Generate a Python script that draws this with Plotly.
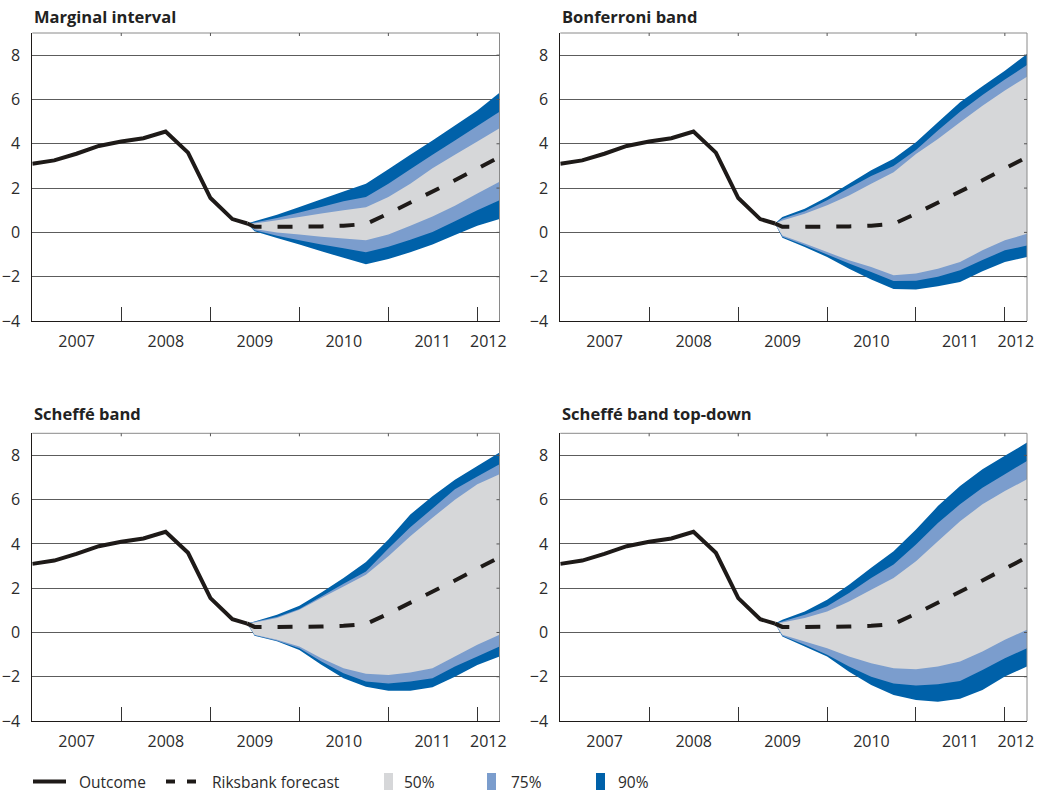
import plotly.graph_objects as go

# ---------------------------------------------------------------- data
OUTCOME_DATES = ["2007-01-01", "2007-04-01", "2007-07-01", "2007-10-01",
                 "2008-01-01", "2008-04-01", "2008-07-01", "2008-10-01",
                 "2009-01-01", "2009-04-01", "2009-06-01"]
OUTCOME = [3.1, 3.25, 3.55, 3.9, 4.1, 4.25, 4.55, 3.6, 1.55, 0.6, 0.4]

FORECAST_DATES = ["2009-06-01", "2009-07-01", "2009-10-01", "2010-01-01",
                  "2010-04-01", "2010-07-01", "2010-10-01", "2011-01-01",
                  "2011-04-01", "2011-07-01", "2011-10-01", "2012-01-01",
                  "2012-04-01"]
FORECAST = [0.4, 0.25, 0.25, 0.25, 0.27, 0.3, 0.38, 0.85, 1.33, 1.83, 2.35, 2.88, 3.4]

# band limits (upper/lower) for the 50, 75 and 90 per cent intervals
MARGINAL_U90 = [0.4, 0.5, 0.8, 1.15, 1.5, 1.85, 2.2, 2.85, 3.5, 4.15, 4.83, 5.5, 6.3]
MARGINAL_U75 = [0.4, 0.45, 0.65, 0.9, 1.15, 1.4, 1.6, 2.2, 2.85, 3.5, 4.15, 4.8, 5.45]
MARGINAL_U50 = [0.4, 0.4, 0.55, 0.7, 0.85, 1.0, 1.14, 1.6, 2.2, 2.9, 3.5, 4.1, 4.7]
MARGINAL_L50 = [0.4, 0.15, 0.0, -0.1, -0.2, -0.28, -0.36, -0.1, 0.3, 0.72, 1.2, 1.75, 2.28]
MARGINAL_L75 = [0.4, 0.1, -0.15, -0.35, -0.55, -0.72, -0.9, -0.65, -0.33, 0.02, 0.5, 1.0, 1.45]
MARGINAL_L90 = [0.4, 0.05, -0.25, -0.55, -0.85, -1.15, -1.44, -1.2, -0.9, -0.55, -0.12, 0.3, 0.6]

BONFERRONI_U90 = [0.4, 0.7, 1.07, 1.6, 2.2, 2.8, 3.32, 4.07, 4.97, 5.87, 6.6, 7.3, 8.05]
BONFERRONI_U75 = [0.4, 0.62, 0.95, 1.45, 2.0, 2.55, 3.0, 3.72, 4.6, 5.45, 6.2, 6.9, 7.55]
BONFERRONI_U50 = [0.4, 0.54, 0.84, 1.22, 1.67, 2.19, 2.72, 3.54, 4.22, 4.97, 5.72, 6.4, 7.03]
BONFERRONI_L50 = [0.4, -0.14, -0.5, -0.89, -1.26, -1.56, -1.94, -1.86, -1.64, -1.34, -0.81, -0.36, -0.06]
BONFERRONI_L75 = [0.4, -0.2, -0.58, -1.0, -1.4, -1.79, -2.2, -2.18, -2.0, -1.71, -1.25, -0.81, -0.59]
BONFERRONI_L90 = [0.4, -0.24, -0.66, -1.11, -1.64, -2.13, -2.55, -2.58, -2.43, -2.24, -1.75, -1.34, -1.11]

SCHEFFE_U90 = [0.4, 0.5, 0.8, 1.21, 1.81, 2.46, 3.19, 4.2, 5.33, 6.16, 6.9, 7.52, 8.13]
SCHEFFE_U75 = [0.4, 0.48, 0.7, 1.06, 1.63, 2.2, 2.76, 3.8, 4.75, 5.6, 6.47, 7.05, 7.6]
SCHEFFE_U50 = [0.4, 0.45, 0.65, 1.03, 1.56, 2.08, 2.61, 3.44, 4.35, 5.18, 6.0, 6.7, 7.15]
SCHEFFE_L50 = [0.4, -0.1, -0.33, -0.63, -1.16, -1.62, -1.87, -1.92, -1.81, -1.62, -1.09, -0.56, -0.1]
SCHEFFE_L75 = [0.4, -0.12, -0.37, -0.71, -1.31, -1.84, -2.22, -2.3, -2.22, -2.07, -1.54, -1.09, -0.63]
SCHEFFE_L90 = [0.4, -0.15, -0.4, -0.79, -1.46, -2.07, -2.45, -2.63, -2.63, -2.48, -2.0, -1.47, -1.09]

TOPDOWN_U90 = [0.4, 0.57, 0.95, 1.48, 2.16, 2.92, 3.67, 4.65, 5.71, 6.62, 7.37, 7.98, 8.58]
TOPDOWN_U75 = [0.4, 0.5, 0.8, 1.18, 1.78, 2.46, 3.07, 3.97, 4.95, 5.79, 6.54, 7.15, 7.75]
TOPDOWN_U50 = [0.4, 0.45, 0.65, 0.95, 1.4, 1.93, 2.46, 3.22, 4.12, 5.03, 5.79, 6.39, 6.92]
TOPDOWN_L50 = [0.4, -0.1, -0.41, -0.71, -1.09, -1.39, -1.62, -1.66, -1.54, -1.31, -0.86, -0.33, 0.12]
TOPDOWN_L75 = [0.4, -0.15, -0.56, -1.01, -1.54, -2.0, -2.3, -2.4, -2.34, -2.19, -1.69, -1.16, -0.71]
TOPDOWN_L90 = [0.4, -0.18, -0.63, -1.09, -1.77, -2.37, -2.82, -3.05, -3.13, -3.0, -2.6, -1.99, -1.54]

PANEL_TITLES = ["Marginal interval", "Bonferroni band", "Scheffé band", "Scheffé band top-down"]

YEAR_LABELS = ["2007", "2008", "2009", "2010", "2011", "2012"]
YEAR_LABEL_DATES = ["2007-07-02", "2008-07-02", "2009-07-02", "2010-07-02", "2011-07-02", "2012-02-15"]
YEAR_BOUNDS = ["2008-01-01", "2009-01-01", "2010-01-01", "2011-01-01", "2012-01-01"]
Y_TICKS = [-4, -2, 0, 2, 4, 6, 8]
Y_TICK_TEXT = ["\u22124", "\u22122", "0", "2", "4", "6", "8"]

LEGEND_LABELS = ["Outcome", "Riksbank forecast", "50%", "75%", "90%"]

# ---------------------------------------------------------------- style
W, H = 1043, 793
FONT = "Open Sans"
TEXT = "#2b2b2b"
INK = "#1e1a18"
C50, C75, C90 = "#d6d7d9", "#7b9dcd", "#0061a9"
GRID = "#5c5c5c"

bands = [
    (MARGINAL_U90, MARGINAL_U75, MARGINAL_U50, MARGINAL_L50, MARGINAL_L75, MARGINAL_L90),
    (BONFERRONI_U90, BONFERRONI_U75, BONFERRONI_U50, BONFERRONI_L50, BONFERRONI_L75, BONFERRONI_L90),
    (SCHEFFE_U90, SCHEFFE_U75, SCHEFFE_U50, SCHEFFE_L50, SCHEFFE_L75, SCHEFFE_L90),
    (TOPDOWN_U90, TOPDOWN_U75, TOPDOWN_U50, TOPDOWN_L50, TOPDOWN_L75, TOPDOWN_L90),
]

# plot-area boxes in pixels: (left, right, top, bottom)
boxes = [(32.3, 499.5, 33.0, 321.0), (560.3, 1027.0, 33.0, 321.0),
         (32.3, 499.5, 433.3, 721.0), (560.3, 1027.0, 433.3, 721.0)]
title_y = [16.0, 16.0, 414.0, 414.0]

fig = go.Figure()
layout = dict(width=W, height=H, margin=dict(l=0, r=0, t=0, b=0, autoexpand=False),
              paper_bgcolor="white", plot_bgcolor="white", showlegend=False,
              font=dict(family=FONT, color=TEXT))
shapes, annotations = [], []

for k, (box, band) in enumerate(zip(boxes, bands), start=1):
    sfx = "" if k == 1 else str(k)
    xa, ya = "x" + sfx, "y" + sfx
    u90, u75, u50, l50, l75, l90 = band
    for up, lo, col in ((u90, l90, C90), (u75, l75, C75), (u50, l50, C50)):
        fig.add_trace(go.Scatter(
            x=FORECAST_DATES + FORECAST_DATES[::-1], y=up + lo[::-1],
            fill="toself", fillcolor=col, mode="none", xaxis=xa, yaxis=ya,
            hoverinfo="skip"))
    fig.add_trace(go.Scatter(x=FORECAST_DATES, y=FORECAST, mode="lines",
                             line=dict(color=INK, width=4, dash="15px,16px"),
                             xaxis=xa, yaxis=ya))
    fig.add_trace(go.Scatter(x=OUTCOME_DATES, y=OUTCOME, mode="lines",
                             line=dict(color=INK, width=4), xaxis=xa, yaxis=ya))

    left, right, top, bottom = box
    layout["xaxis" + sfx] = dict(
        type="date", range=["2007-01-01", "2012-04-01"],
        domain=[left / W, right / W], anchor=ya, automargin=False,
        showgrid=False, zeroline=False, showline=True, linecolor=INK, linewidth=1,
        tickmode="array", tickvals=YEAR_LABEL_DATES, ticktext=YEAR_LABELS,
        ticks="", tickfont=dict(size=16, color=TEXT), ticklabelstandoff=6,
        minor=dict(tickmode="array", tickvals=YEAR_BOUNDS, ticks="inside",
                   ticklen=14, tickwidth=1, tickcolor="#333", showgrid=False),
        fixedrange=True)
    layout["yaxis" + sfx] = dict(
        range=[-4, 9], domain=[1 - bottom / H, 1 - top / H], anchor=xa,
        automargin=False,
        tickmode="array", tickvals=Y_TICKS, ticktext=Y_TICK_TEXT,
        showgrid=True, gridcolor=GRID, gridwidth=1, zeroline=False,
        showline=True, linecolor=INK, linewidth=1, ticks="",
        tickfont=dict(size=16, color=TEXT), ticklabelstandoff=8, fixedrange=True)

    # top and right frame with short inward ticks
    xd, yd = xa + " domain", ya + " domain"
    shapes.append(dict(type="line", xref=xd, yref=yd, x0=0, x1=1, y0=1, y1=1,
                       line=dict(color="#8a8a8a", width=1)))
    shapes.append(dict(type="line", xref=xd, yref=yd, x0=1, x1=1, y0=0, y1=1,
                       line=dict(color="#8a8a8a", width=1)))
    pw, ph = right - left, bottom - top
    for yv in Y_TICKS[1:]:
        shapes.append(dict(type="line", xref=xd, yref=ya, x0=1 - 3 / pw, x1=1,
                           y0=yv, y1=yv, line=dict(color="#555", width=1)))
    for xv in YEAR_BOUNDS:
        shapes.append(dict(type="line", xref=xa, yref=yd, x0=xv, x1=xv,
                           y0=1 - 3 / ph, y1=1, line=dict(color="#555", width=1)))

    annotations.append(dict(text="<b>%s</b>" % PANEL_TITLES[k - 1], xref="paper",
                            yref="paper", x=(left - 0.5) / W, y=1 - title_y[k - 1] / H,
                            xanchor="left", yanchor="middle", showarrow=False,
                            font=dict(size=16.5, color="#222", family=FONT)))

# legend row
LEG_Y = 781.5
ly = 1 - LEG_Y / H
shapes.append(dict(type="line", xref="paper", yref="paper", x0=33 / W, x1=66 / W,
                   y0=ly, y1=ly, line=dict(color=INK, width=4)))
for a, b in ((166, 175), (187, 196)):
    shapes.append(dict(type="line", xref="paper", yref="paper", x0=a / W, x1=b / W,
                       y0=ly, y1=ly, line=dict(color=INK, width=4)))
for x0, col in ((384, C50), (487, C75), (596, C90)):
    shapes.append(dict(type="rect", xref="paper", yref="paper", x0=x0 / W,
                       x1=(x0 + 9) / W, y0=1 - (LEG_Y + 8.5) / H,
                       y1=1 - (LEG_Y - 8.5) / H,
                       fillcolor=col, line=dict(width=0)))
for label, x0 in zip(LEGEND_LABELS, (77, 210, 402, 509, 616)):
    annotations.append(dict(text=label, xref="paper", yref="paper", x=x0 / W, y=ly,
                            xanchor="left", yanchor="middle", showarrow=False,
                            font=dict(size=15.5, color=TEXT, family=FONT)))

layout["shapes"] = shapes
layout["annotations"] = annotations
fig.update_layout(**layout)
fig.write_html("out.html")
